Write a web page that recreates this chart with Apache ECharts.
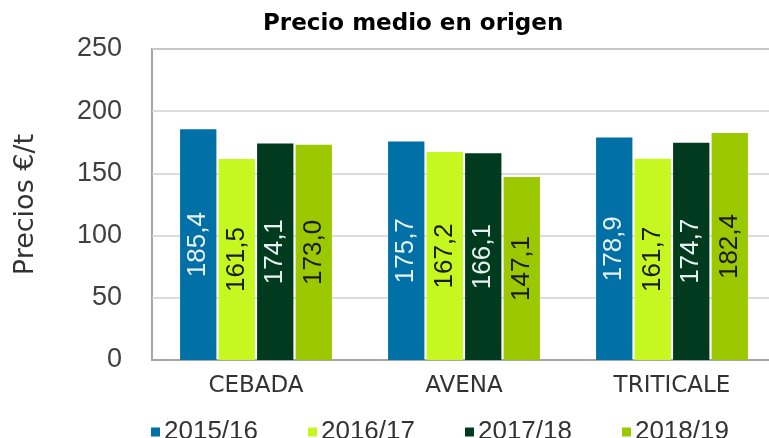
<!DOCTYPE html>
<html><head><meta charset="utf-8">
<script src="https://cdn.jsdelivr.net/npm/echarts@6/dist/echarts.min.js"></script>
<style>html,body{margin:0;padding:0;background:#fff}#c{width:769px;height:438px}</style>
</head><body><div id="c"></div>
<script>
const categories = ['CEBADA', 'AVENA', 'TRITICALE'];
const seriesNames = ['2015/16', '2016/17', '2017/18', '2018/19'];
const v2015 = [185.4, 175.7, 178.9];
const v2016 = [161.5, 167.2, 161.7];
const v2017 = [174.1, 166.1, 174.7];
const v2018 = [173.0, 147.1, 182.4];
const yTicks = [0, 50, 100, 150, 200, 250];

const colors = ['#0070a6', '#c4f820', '#003b20', '#9cc800'];
const labelColors = ['#e8f0f2', '#1a1a1a', '#e8f0f2', '#1a1a1a'];
const values = [v2015, v2016, v2017, v2018];
const numFont = 'Liberation Sans';

const chart = echarts.init(document.getElementById('c'), null, {renderer: 'canvas'});
chart.setOption({
  animation: false,
  title: {
    text: 'Precio medio en origen',
    left: 258, top: 8,
    textStyle: {fontFamily: 'DejaVu Sans', fontWeight: 'bold', fontSize: 23, color: '#000'}
  },
  legend: {
    left: 146, top: 414,
    itemWidth: 9, itemHeight: 9, itemGap: 50,
    icon: 'rect',
    textStyle: {fontFamily: numFont, fontSize: 26, color: '#333333', padding: [0,0,0,-1]},
    data: seriesNames
  },
  grid: {
    left: 152, width: 624, top: 49, height: 311,
    outerBoundsMode: 'none', containLabel: false,
    show: true, borderColor: '#a6a6a6', borderWidth: 2
  },
  xAxis: {
    type: 'category', data: categories,
    axisTick: {show: false},
    axisLine: {lineStyle: {color: '#a6a6a6', width: 2}},
    axisLabel: {fontFamily: 'DejaVu Sans', fontSize: 23, color: '#333333', margin: 15}
  },
  yAxis: {
    type: 'value', min: yTicks[0], max: yTicks[yTicks.length - 1], interval: 50,
    name: 'Precios €/t', nameLocation: 'middle', nameRotate: 90, nameGap: 113,
    nameTextStyle: {fontFamily: 'DejaVu Sans', fontSize: 27, color: '#333333'},
    axisLine: {show: false}, axisTick: {show: false},
    axisLabel: {fontFamily: numFont, fontSize: 27, color: '#404040', margin: 30},
    splitLine: {lineStyle: {color: '#d0d0d0', width: 1.5}}
  },
  series: seriesNames.map((n, i) => ({
    name: n, type: 'bar', data: values[i],
    barCategoryGap: '27%', barGap: '6%',
    itemStyle: {color: colors[i]},
    label: {
      show: true, position: 'inside', rotate: 90,
      formatter: p => p.value.toFixed(1).replace('.', ','),
      fontFamily: numFont, fontSize: 26, color: labelColors[i]
    }
  }))
});
</script></body></html>
